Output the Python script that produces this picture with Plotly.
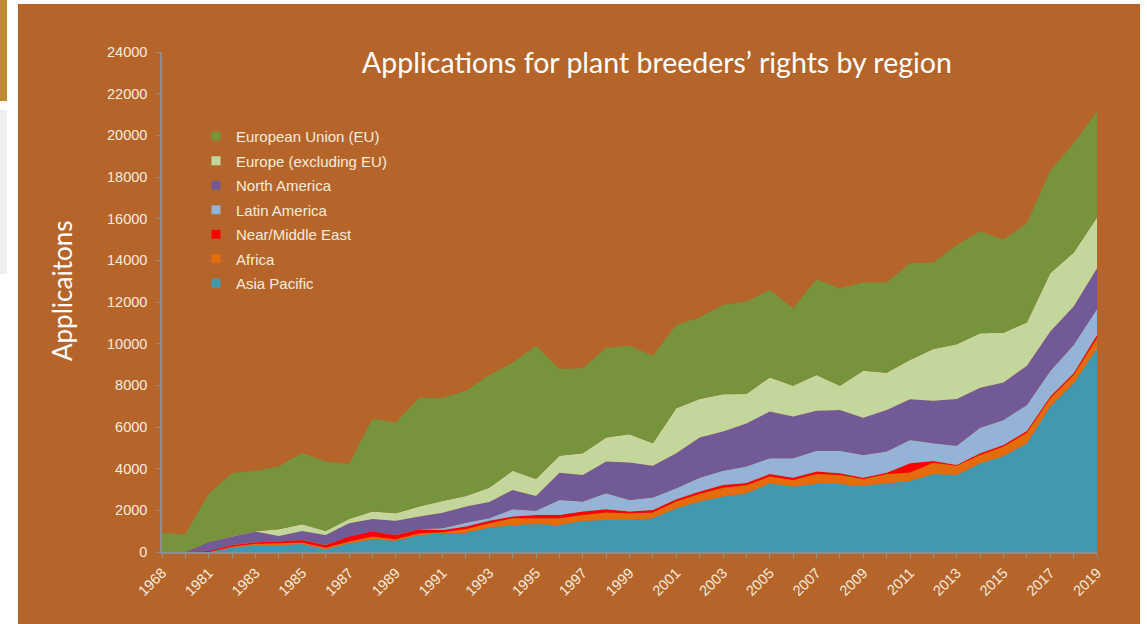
import plotly.graph_objects as go

years = ["1968", "1980"] + [str(y) for y in range(1981, 2020)]
tick_labels = [y if i % 2 == 0 else "" for i, y in enumerate(years)]

asia_pacific = [0, 0, 0, 220, 340, 340, 380, 130, 420, 610, 540, 820, 900, 930, 1180, 1300, 1340, 1300, 1500, 1540,
                1540, 1620, 2100, 2420, 2660, 2820, 3300, 3140, 3260, 3260, 3180, 3300, 3410, 3740, 3700, 4260,
                4610, 5220, 6980, 8100, 9780]
africa = [0, 0, 0, 40, 60, 80, 80, 80, 80, 130, 70, 80, 50, 170, 200, 320, 280, 320, 280, 360,
          320, 280, 320, 360, 430, 380, 320, 320, 480, 440, 320, 440, 410, 550, 440, 400,
          450, 510, 400, 400, 480]
near_middle_east = [0, 0, 50, 80, 70, 80, 120, 130, 240, 240, 210, 190, 110, 120, 120, 80, 160, 160, 160, 150,
                    80, 120, 110, 120, 130, 110, 120, 110, 120, 80, 70, 70, 440, 80, 40, 80,
                    80, 80, 80, 80, 160]
latin_america = [0, 0, 0, 10, 10, 10, 10, 10, 10, 10, 10, 20, 80, 190, 120, 350, 200, 720, 480, 770,
                 560, 600, 530, 670, 680, 790, 760, 930, 1000, 1080, 1090, 1010, 1120, 850, 920, 1230,
                 1200, 1250, 1230, 1360, 1250]
north_america = [0, 0, 420, 390, 500, 260, 420, 470, 630, 590, 670, 590, 740, 770, 780, 930, 710, 1310, 1280, 1520,
                 1800, 1520, 1680, 1930, 1880, 2070, 2240, 2000, 1920, 1960, 1790, 2000, 1950, 2040, 2240, 1920,
                 1800, 1880, 1890, 1840, 1950]
europe_excl_eu = [0, 0, 0, 20, 20, 320, 320, 190, 200, 370, 360, 480, 570, 510, 690, 920, 810, 810, 1040, 1160,
                  1350, 1080, 2160, 1840, 1790, 1410, 1640, 1480, 1720, 1160, 2250, 1790, 1890, 2480, 2630, 2610,
                  2390, 2080, 2800, 2590, 2440]
european_union = [900, 870, 2330, 3030, 2900, 3010, 3440, 3330, 2640, 4430, 4360, 5230, 4950, 5050, 5410, 5190, 6400,
                  4160, 4080, 4310, 4250, 4200, 4000, 3920, 4290, 4440, 4200, 3720, 4590, 4680, 4240, 4330, 4640,
                  4160, 4770, 4900, 4470, 4760, 4920, 5250, 5080]

series = [
    ("Asia Pacific", asia_pacific, "#4198AF"),
    ("Africa", africa, "#E46C0A"),
    ("Near/Middle East", near_middle_east, "#FF0000"),
    ("Latin America", latin_america, "#95B3D7"),
    ("North America", north_america, "#725A96"),
    ("Europe (excluding EU)", europe_excl_eu, "#C3D69B"),
    ("European Union (EU)", european_union, "#77933C"),
]

y_ticks = list(range(0, 24001, 2000))

BG = "#B5652A"
TXT = "#F6EBDD"
AX = "#8E8E8E"

fig = go.Figure()
for name, vals, col in series:
    fig.add_trace(go.Scatter(
        x=years, y=vals, name=name, stackgroup="one", mode="none",
        fillcolor=col, line=dict(width=0), showlegend=False, hoverinfo="skip"))
for name, vals, col in reversed(series):
    fig.add_trace(go.Scatter(
        x=[None], y=[None], name=name, mode="markers", legendgroup=name,
        marker=dict(symbol="square", size=9, color=col), showlegend=True))

W, H = 1147, 624
L, R, T, B = 162, 1097, 52, 552
pw, ph = R - L, B - T


def px(x):
    return (x - L) / pw


def py(y):
    return (B - y) / ph


shapes = [
    dict(type="rect", xref="paper", yref="paper", x0=px(0), x1=px(18), y0=py(0), y1=py(H),
         fillcolor="white", line=dict(width=0), layer="below"),
    dict(type="rect", xref="paper", yref="paper", x0=px(0), x1=px(W), y0=py(0), y1=py(4),
         fillcolor="white", line=dict(width=0), layer="below"),
    dict(type="rect", xref="paper", yref="paper", x0=px(1140), x1=px(W), y0=py(0), y1=py(H),
         fillcolor="white", line=dict(width=0), layer="below"),
    dict(type="rect", xref="paper", yref="paper", x0=px(0), x1=px(7), y0=py(0), y1=py(101),
         fillcolor="#C08C33", line=dict(width=0), layer="below"),
    dict(type="rect", xref="paper", yref="paper", x0=px(0), x1=px(7), y0=py(110), y1=py(274),
         fillcolor="#EFEFF2", line=dict(width=0), layer="below"),
]

fig.update_layout(
    width=W, height=H,
    margin=dict(l=L, r=W - R, t=T, b=H - B),
    paper_bgcolor=BG, plot_bgcolor="rgba(0,0,0,0)",
    shapes=shapes,
    font=dict(family="Liberation Sans, Arial", size=14, color=TXT),
    title=dict(text="Applications for plant breeders’ rights by region",
               font=dict(family="Lato", size=28.5, color="white"),
               x=657 / W, xanchor="center", xref="container",
               y=1 - 63 / H, yanchor="middle", yref="container"),
    showlegend=True,
    legend=dict(x=px(196), y=py(120), xanchor="left", yanchor="top",
                bgcolor="rgba(0,0,0,0)", traceorder="grouped", tracegroupgap=2,
                font=dict(family="Liberation Sans, Arial", size=15, color=TXT)),
    annotations=[dict(text="Applicaitons", xref="paper", yref="paper", x=px(62), y=py(291),
                      showarrow=False, textangle=-90, font=dict(family="Lato", size=26, color="white"),
                      xanchor="center", yanchor="middle")],
)
fig.update_xaxes(type="category", range=[0, len(years) - 1], tickmode="array", tickvals=years,
                 ticktext=tick_labels, tickangle=-45, ticks="outside", ticklen=5, tickcolor=AX,
                 showline=True, linecolor=AX, linewidth=1.5, showgrid=False, zeroline=False,
                 tickfont=dict(size=14.5, color=TXT))
fig.update_yaxes(range=[0, 24000], tickmode="array", tickvals=y_ticks, ticktext=[str(v) for v in y_ticks],
                 ticks="outside", ticklen=4, tickcolor=AX, showline=True, linecolor=AX, linewidth=1.5,
                 showgrid=False, zeroline=False, ticklabelstandoff=6, tickfont=dict(size=14.5, color=TXT))

fig.write_html("out.html", config={"displayModeBar": False},
               post_script="document.body.style.margin='0';document.body.style.overflow='hidden';")
